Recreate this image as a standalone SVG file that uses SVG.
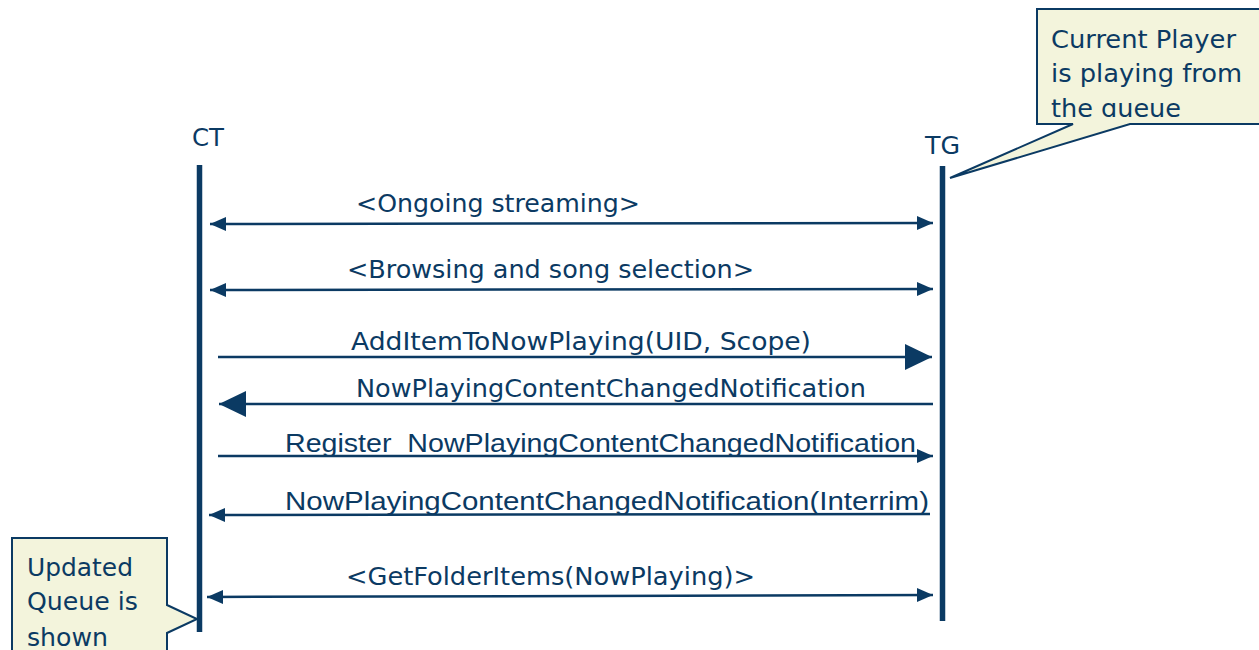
<svg xmlns="http://www.w3.org/2000/svg" width="1259" height="650" viewBox="0 0 1259 650">
  <style>
    .lbl { font-family: "DejaVu Sans Condensed", "DejaVu Sans", sans-serif; font-size: 25px; fill: #0b3a63; }
    .arl { font-family: "Liberation Sans", Arial, sans-serif; font-size: 26px; fill: #0b3a63; }
    .msg { stroke: #0b3a63; stroke-width: 2.5; fill: none; }
    .life { stroke: #0b3a63; stroke-width: 5.5; }
    .callout { fill: #f3f4dc; stroke: #0b3a63; stroke-width: 2; }
  </style>
  <defs>
    <marker id="sm" markerUnits="userSpaceOnUse" markerWidth="16" markerHeight="16" refX="16" refY="8" orient="auto-start-reverse">
      <path d="M0,1 L16,8 L0,15 Z" fill="#0b3a63"/>
    </marker>
    <marker id="big" markerUnits="userSpaceOnUse" markerWidth="27" markerHeight="27" refX="27" refY="13.5" orient="auto-start-reverse">
      <path d="M0,0.5 L27,13.5 L0,26.5 Z" fill="#0b3a63"/>
    </marker>
    <clipPath id="c1"><rect x="1038" y="10" width="230" height="107"/></clipPath>
    <clipPath id="c2"><rect x="13" y="539" width="153" height="120"/></clipPath>
  </defs>
  <rect width="1259" height="650" fill="#ffffff"/>

  <g id="CT">
    <text class="lbl" x="192" y="146" font-size="27" textLength="32" lengthAdjust="spacingAndGlyphs">CT</text>
    <line class="life" x1="199.5" y1="165" x2="199.5" y2="632"/>
  </g>
  <g id="TG">
    <text class="lbl" x="925" y="154" font-size="27" textLength="35" lengthAdjust="spacingAndGlyphs">TG</text>
    <line class="life" x1="942.5" y1="166" x2="942.5" y2="621"/>
  </g>

  <g id="connectors">
    <line class="msg" x1="210" y1="224" x2="933" y2="223" marker-start="url(#sm)" marker-end="url(#sm)"/>
    <text class="lbl" x="356" y="212" textLength="284" lengthAdjust="spacingAndGlyphs">&lt;Ongoing streaming&gt;</text>

    <line class="msg" x1="210" y1="290" x2="933" y2="289" marker-start="url(#sm)" marker-end="url(#sm)"/>
    <text class="lbl" x="347" y="278" textLength="407" lengthAdjust="spacingAndGlyphs">&lt;Browsing and song selection&gt;</text>

    <line class="msg" x1="218" y1="357" x2="932" y2="357" marker-end="url(#big)"/>
    <text class="lbl" x="351" y="350" textLength="460" lengthAdjust="spacingAndGlyphs">AddItemToNowPlaying(UID, Scope)</text>

    <line class="msg" x1="933" y1="404" x2="219" y2="404" marker-end="url(#big)"/>
    <text class="lbl" x="356" y="397" textLength="510" lengthAdjust="spacingAndGlyphs">NowPlayingContentChangedNotification</text>

    <line class="msg" x1="218" y1="456" x2="933" y2="456" marker-end="url(#sm)"/>
    <text class="arl" x="285" y="452" textLength="631" lengthAdjust="spacingAndGlyphs">Register_NowPlayingContentChangedNotification</text>

    <line class="msg" x1="930" y1="514" x2="209" y2="515" marker-end="url(#sm)"/>
    <text class="arl" x="285" y="510" textLength="644" lengthAdjust="spacingAndGlyphs">NowPlayingContentChangedNotification(Interrim)</text>

    <line class="msg" x1="207" y1="597" x2="933" y2="595" marker-start="url(#sm)" marker-end="url(#sm)"/>
    <text class="lbl" x="346" y="585" textLength="409" lengthAdjust="spacingAndGlyphs">&lt;GetFolderItems(NowPlaying)&gt;</text>
  </g>

  <g id="note-player">
    <path class="callout" d="M1037,9 H1265 V124 H1130 L950,178 L1073,124 H1037 Z"/>
    <g clip-path="url(#c1)">
      <text class="lbl" x="1051" y="48" font-size="27" textLength="185" lengthAdjust="spacingAndGlyphs">Current Player</text>
      <text class="lbl" x="1051" y="82" font-size="27" textLength="191" lengthAdjust="spacingAndGlyphs">is playing from</text>
      <text class="lbl" x="1051" y="117" font-size="27" textLength="130" lengthAdjust="spacingAndGlyphs">the queue</text>
    </g>
  </g>

  <g id="note-queue">
    <path class="callout" d="M12,538 H167 V605 L197,619 L167,633 V665 H12 Z"/>
    <g clip-path="url(#c2)">
      <text class="lbl" x="27" y="576" font-size="27" textLength="106" lengthAdjust="spacingAndGlyphs">Updated</text>
      <text class="lbl" x="27" y="610" font-size="27" textLength="111" lengthAdjust="spacingAndGlyphs">Queue is</text>
      <text class="lbl" x="27" y="646" font-size="27" textLength="81" lengthAdjust="spacingAndGlyphs">shown</text>
    </g>
  </g>
</svg>
